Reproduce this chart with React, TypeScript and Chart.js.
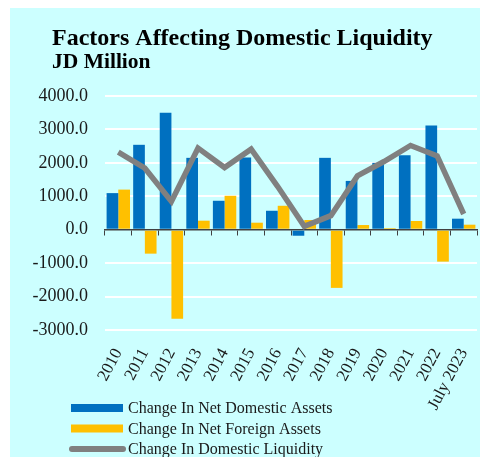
import React, { useEffect, useRef } from 'react';
import { Chart, registerables } from 'chart.js';

Chart.register(...registerables);

const categories = ['2010', '2011', '2012', '2013', '2014', '2015', '2016', '2017', '2018', '2019', '2020', '2021', '2022', 'July 2023'];
const netDomesticAssets = [1095, 2540, 3500, 2150, 866, 2160, 567, -180, 2150, 1460, 2000, 2230, 3115, 330];
const netForeignAssets = [1200, -716, -2667, 270, 1015, 210, 716, 290, -1740, 140, 50, 260, -955, 150];
const domesticLiquidity = [2320, 1840, 845, 2440, 1860, 2410, 1290, 100, 420, 1610, 2040, 2520, 2210, 470];
const yRange = [-3000, 4000];
const yStep = 1000;
const seriesNames = ['Change In Net Domestic Assets', 'Change In Net Foreign Assets', 'Change In Domestic Liquidity'];
const titleLines = ['Factors Affecting Domestic Liquidity', 'JD Million'];

const SERIF = "'Liberation Serif', 'Times New Roman', serif";
const BLUE = '#0070C0';
const YELLOW = '#FFC000';
const GRAY = '#808080';

const titlePlugin = {
  id: 'customTitle',
  afterDraw(chart: any) {
    const ctx = chart.ctx;
    ctx.save();
    ctx.fillStyle = '#000';
    ctx.textAlign = 'left';
    ctx.textBaseline = 'alphabetic';
    ctx.font = `bold 24px ${SERIF}`;
    ctx.fillText(titleLines[0], 42, 37);
    ctx.font = `bold 21.5px ${SERIF}`;
    ctx.fillText(titleLines[1], 42, 60);
    ctx.restore();
  },
};

const legendPlugin = {
  id: 'stackedLegend',
  afterDraw(chart: any) {
    const ctx = chart.ctx;
    const ds = chart.data.datasets;
    ctx.save();
    ctx.font = `16px ${SERIF}`;
    ctx.textBaseline = 'middle';
    ctx.textAlign = 'left';
    const x0 = 61;
    const y0 = 400;
    const rowH = 20.5;
    ds.forEach((d: any, i: number) => {
      const y = y0 + i * rowH;
      if (d.type === 'line') {
        ctx.strokeStyle = d.borderColor;
        ctx.lineWidth = 6;
        ctx.lineCap = 'round';
        ctx.beginPath();
        ctx.moveTo(62, y);
        ctx.lineTo(113, y);
        ctx.stroke();
      } else {
        ctx.fillStyle = d.backgroundColor;
        ctx.fillRect(x0, y - 4, 52, 8);
      }
      ctx.fillStyle = '#1a1a1a';
      ctx.fillText(d.label, 118, y + 1);
    });
    ctx.restore();
  },
};

export default function App() {
  const ref = useRef<HTMLCanvasElement | null>(null);
  useEffect(() => {
    if (!ref.current) return;
    const chart = new Chart(ref.current, {
      type: 'bar',
      data: {
        labels: categories,
        datasets: [
          { type: 'bar', label: seriesNames[0], data: netDomesticAssets, backgroundColor: BLUE, order: 2 },
          { type: 'bar', label: seriesNames[1], data: netForeignAssets, backgroundColor: YELLOW, order: 2 },
          { type: 'line', label: seriesNames[2], data: domesticLiquidity, borderColor: GRAY, backgroundColor: GRAY, borderWidth: 5.5, pointRadius: 0, tension: 0, order: 0, borderJoinStyle: 'miter' } as any,
        ],
      },
      options: {
        responsive: false,
        animation: false,
        layout: { padding: { left: 0, right: 3, top: 88, bottom: 0 } },
        datasets: { bar: { categoryPercentage: 0.88, barPercentage: 1.0 } } as any,
        plugins: { legend: { display: false }, title: { display: false }, tooltip: { enabled: false } },
        scales: {
          x: {
            type: 'category',
            offset: true,
            grid: { display: false, drawTicks: false },
            border: { display: false },
            ticks: {
              autoSkip: false,
              minRotation: 62,
              maxRotation: 62,
              padding: 15,
              labelOffset: 0,
              color: '#1a1a1a',
              font: { family: SERIF, size: 17 },
            },
            afterFit(scale: any) { scale.height = 127; scale.paddingLeft = 0; scale.paddingRight = 0; },
          },
          x2: {
            type: 'category',
            position: { y: 0 } as any,
            offset: true,
            grid: { offset: true, drawOnChartArea: false, drawTicks: true, tickLength: 5, color: '#404040', lineWidth: 1 },
            border: { display: true, color: '#404040', width: 1.5 },
            ticks: { display: false },
            afterFit(scale: any) { scale.paddingLeft = 0; scale.paddingRight = 0; },
          },
          y: {
            min: yRange[0],
            max: yRange[1],
            border: { display: false },
            grid: {
              drawTicks: false,
              lineWidth: 2,
              color: (c: any) => (c.tick && c.tick.value === 0 ? 'rgba(0,0,0,0)' : '#ffffff'),
            },
            ticks: {
              stepSize: yStep,
              padding: 17,
              color: '#1a1a1a',
              font: { family: SERIF, size: 18 },
              callback: (v: any) => Number(v).toFixed(1),
            },
            afterFit(scale: any) { scale.width = 95; },
          },
        },
      },
      plugins: [titlePlugin, legendPlugin],
    } as any);
    return () => chart.destroy();
  }, []);
  return (
    <div style={{ position: 'fixed', left: 10, top: 8, width: 470, height: 449, background: '#CCFFFF' }}>
      <canvas ref={ref} width={470} height={449} style={{ display: 'block' }} />
    </div>
  );
}
